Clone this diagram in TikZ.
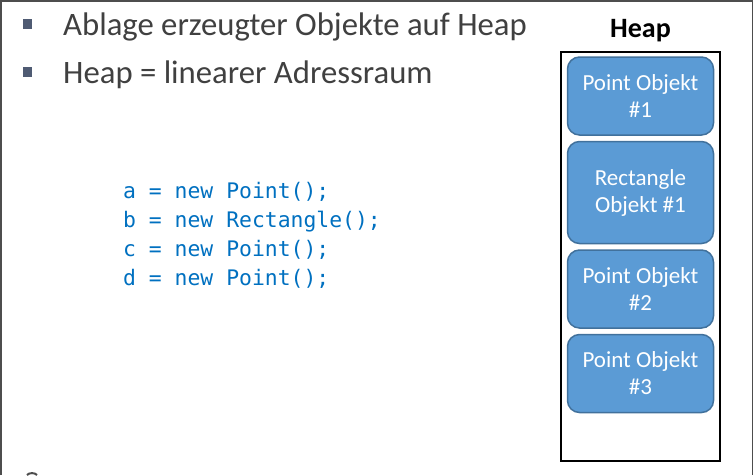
\documentclass[tikz,border=0pt]{standalone}
\usepackage{fontspec}
\setmainfont{Carlito}
\newfontfamily\codefont{DejaVu Sans Mono}
\usetikzlibrary{positioning}
\definecolor{objblue}{HTML}{5B9BD5}
\definecolor{objedge}{HTML}{41719C}
\definecolor{codeblue}{HTML}{0070C0}
\definecolor{bulletgray}{HTML}{4F5B73}
\definecolor{textgray}{HTML}{404040}
\definecolor{framegray}{HTML}{4D4D4D}
\tikzset{
  obj/.style={rectangle,rounded corners=12pt,draw=objedge,line width=1.5pt,
    fill=objblue,text=white,minimum width=146pt,align=center,
    font=\fontsize{23}{27}\selectfont},
  bullet/.style={rectangle,fill=bulletgray,minimum size=9.5pt,inner sep=0pt},
  item/.style={anchor=base west,inner sep=0pt,text=textgray,
    font=\fontsize{32.7}{38}\selectfont},
  code/.style={anchor=base west,inner sep=0pt,text=codeblue,
    font=\codefont\fontsize{21.4}{29}\selectfont}
}
\begin{document}
\begin{tikzpicture}[x=1pt,y=-1pt]
\useasboundingbox (0,0) rectangle (753,475);
% slide frame
\draw [framegray,line width=1.5pt] (0.75,475) -- (0.75,0.75) -- (752.25,0.75) -- (752.25,475);
\draw [framegray,line width=2pt] (27,475) .. controls (29,472.5) and (35,472.5) .. (37,475);
% bullet list
\node [bullet] (b1) at (27.5,24) {};
\node [bullet] (b2) at (27.5,72) {};
\node [item] (t1) at (63,35) {Ablage erzeugter Objekte auf Heap};
\node [item] (t2) at (63,83) {Heap = linearer Adressraum};
% code
\node [code] (ca) at (123,198) {a = new Point();};
\node [code] (cb) at (123,227) {b = new Rectangle();};
\node [code] (cc) at (123,256) {c = new Point();};
\node [code] (cd) at (123,285) {d = new Point();};
% heap
\node [font=\bfseries\fontsize{28}{32}\selectfont] (heaplabel) at (640.5,31) {Heap};
\draw [line width=2pt] (561,52) rectangle (720,461);
\node [obj,minimum height=78pt] (p1) at (640.5,96) {Point Objekt\\\#1};
\node [obj,minimum height=102pt,below=5pt of p1] (r1) {Rectangle\\Objekt \#1};
\node [obj,minimum height=78pt,below=5pt of r1] (p2) {Point Objekt\\\#2};
\node [obj,minimum height=78pt,below=5pt of p2] (p3) {Point Objekt\\\#3};
\end{tikzpicture}
\end{document}
